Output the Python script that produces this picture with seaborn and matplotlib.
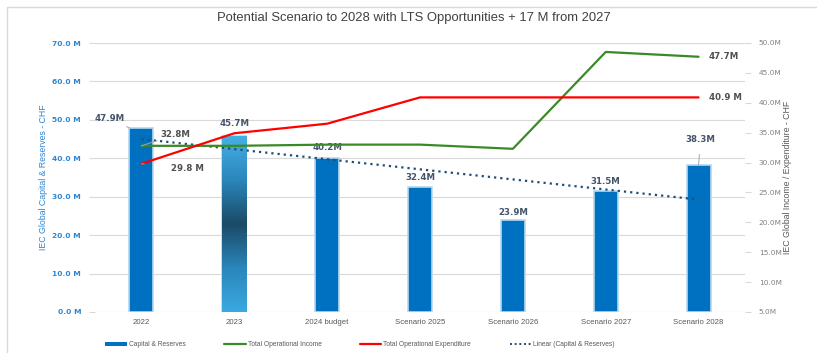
import numpy as np
import pandas as pd
import matplotlib
matplotlib.use("Agg")
import matplotlib.pyplot as plt
from matplotlib.colors import LinearSegmentedColormap
from matplotlib.lines import Line2D
from matplotlib.patches import Patch, Rectangle
import seaborn as sns

# ---- data ----
categories = ["2022", "2023", "2024 budget", "Scenario 2025",
              "Scenario 2026", "Scenario 2027", "Scenario 2028"]
capital_reserves = [47.9, 45.7, 40.2, 32.4, 23.9, 31.5, 38.3]
operational_income = [32.8, 32.8, 33.0, 33.0, 32.3, 48.5, 47.7]
operational_expenditure = [29.8, 34.9, 36.5, 40.9, 40.9, 40.9, 40.9]

left_ticks = [0, 10, 20, 30, 40, 50, 60, 70]
right_ticks = [5, 10, 15, 20, 25, 30, 35, 40, 45, 50]

title = "Potential Scenario to 2028 with LTS Opportunities + 17 M from 2027"

# ---- style ----
sns.set_theme(style="white")
NARROW = ["Liberation Sans", "DejaVu Sans"]
plt.rcParams["font.family"] = ["DejaVu Sans"]

BAR_BLUE = "#0070c0"
GREEN = "#3a8a27"
RED = "#ff0000"
TREND = "#1f4e79"
GRID = "#d9d9d9"
LEFT_TXT = "#2e86d0"
RIGHT_TXT = "#808080"
LABEL_TXT = "#44546a"
LINE_TXT = "#505050"

df = pd.DataFrame({"category": categories, "capital": capital_reserves})
pos = np.arange(len(categories))

fig = plt.figure(figsize=(8.17, 3.53), dpi=100)
ax = fig.add_axes([95 / 817, 1 - 312 / 353, 650 / 817, 269 / 353])

sns.barplot(data=df, x="category", y="capital", ax=ax, color=BAR_BLUE,
            saturation=1, width=0.26, edgecolor="#b7d8f0", linewidth=1.2,
            zorder=2)

# gradient fill on the 2023 bar
p = ax.patches[1]
x0, y0, w, h = p.get_x(), p.get_y(), p.get_width(), p.get_height()
cmap = LinearSegmentedColormap.from_list(
    "bar23", ["#3ba9e1", "#2a86bb", "#1b4a66", "#2a86bb", "#45b0e6"])
grad = np.linspace(0, 1, 256).reshape(-1, 1)
im = ax.imshow(grad, extent=[x0, x0 + w, y0, y0 + h], origin="lower",
               cmap=cmap, aspect="auto", zorder=2.1)
im.set_clip_path(p)

# linear trend of capital & reserves
sns.regplot(x=pos, y=np.array(capital_reserves), ax=ax, scatter=False,
            ci=None, truncate=True,
            line_kws=dict(color=TREND, lw=1.6, ls=(0, (1, 1.8)), zorder=3))

ax.set_xlim(-0.5, len(categories) - 0.5)
ax.set_ylim(0, 70)
ax.set_yticks(left_ticks)
ax.set_yticklabels([f"{v:.1f} M" for v in left_ticks], color=LEFT_TXT,
                   fontsize=5.4, fontweight="bold")
ax.set_xticks(pos)
ax.set_xticklabels(categories, fontsize=5.6, color="#595959", family=NARROW)
ax.tick_params(axis="x", length=0, pad=5)
ax.tick_params(axis="y", length=4, color=GRID, width=0.8, pad=6)
ax.grid(axis="y", color=GRID, lw=0.8, zorder=0)
ax.set_axisbelow(True)
for s in ax.spines.values():
    s.set_visible(False)
ax.set_xlabel("")
ax.set_ylabel("IEC Global Capital & Reserves - CHF", color=LEFT_TXT,
              fontsize=6.3, family=NARROW, labelpad=3)

# income / expenditure on the secondary axis
ax2 = ax.twinx()
sns.lineplot(x=pos, y=operational_income, ax=ax2, color=GREEN, lw=1.6)
sns.lineplot(x=pos, y=operational_expenditure, ax=ax2, color=RED, lw=1.6)
ax2.set_ylim(5, 50)
ax2.set_yticks(right_ticks)
ax2.set_yticklabels([f"{v:.1f}M" for v in right_ticks], color=RIGHT_TXT,
                    fontsize=5.3)
ax2.tick_params(axis="y", length=4, color=GRID, width=0.8, pad=6)
for s in ax2.spines.values():
    s.set_visible(False)
ax2.set_ylabel("IEC Global Income / Expenditure - CHF", color="#595959",
               fontsize=6.3, family=NARROW, labelpad=1)
ax2.set_xlim(-0.5, len(categories) - 0.5)

# bar value labels
lab_kw = dict(textcoords="offset pixels", fontsize=6.2, fontweight="bold",
              color=LABEL_TXT, ha="center", va="center", zorder=5)
bar_offsets = {1: 13, 2: 10, 3: 10, 4: 8, 5: 9}
for i, off in bar_offsets.items():
    ax.annotate(f"{capital_reserves[i]:.1f}M", (pos[i], capital_reserves[i]),
                xytext=(0, off), **lab_kw)
ax.annotate(f"{capital_reserves[0]:.1f}M", (pos[0] - 0.13, capital_reserves[0]),
            xytext=(-20, 9),
            arrowprops=dict(arrowstyle="-", color="#a6a6a6", lw=0.7,
                            shrinkA=8, shrinkB=0), **lab_kw)
ax.annotate(f"{capital_reserves[6]:.1f}M", (pos[6], capital_reserves[6]),
            xytext=(2, 25),
            arrowprops=dict(arrowstyle="-", color="#a6a6a6", lw=0.7,
                            shrinkA=5, shrinkB=0), **lab_kw)

# line value labels
line_kw = dict(textcoords="offset pixels", fontsize=6.2, fontweight="bold",
               color=LINE_TXT, va="center", zorder=5)
ax2.annotate(f"{operational_income[0]:.1f}M", (pos[0], operational_income[0]),
             xytext=(34, 11), ha="center",
             arrowprops=dict(arrowstyle="-", color="#a6a6a6", lw=0.7,
                             shrinkA=14, shrinkB=0), **line_kw)
ax2.annotate(f"{operational_expenditure[0]:.1f} M",
             (pos[0], operational_expenditure[0]),
             xytext=(46, -5), ha="center",
             arrowprops=dict(arrowstyle="-", color="#a6a6a6", lw=0.7,
                             shrinkA=17, shrinkB=0), **line_kw)
ax2.annotate(f"{operational_income[-1]:.1f}M", (pos[-1], operational_income[-1]),
             xytext=(10, 0), ha="left", **line_kw)
ax2.annotate(f"{operational_expenditure[-1]:.1f} M",
             (pos[-1], operational_expenditure[-1]),
             xytext=(10, 0), ha="left", **line_kw)

# title
fig.text(0.507, 1 - 18 / 353, title, ha="center", va="center",
         fontsize=9.4, color="#404040", family=NARROW)

# legend
handles = [
    Patch(facecolor=BAR_BLUE, edgecolor="none"),
    Line2D([], [], color=GREEN, lw=1.6),
    Line2D([], [], color=RED, lw=1.6),
    Line2D([], [], color=TREND, lw=1.4, ls=(0, (1, 1.4))),
]
labels = ["Capital & Reserves", "Total Operational Income",
          "Total Operational Expenditure", "Linear (Capital & Reserves)"]
fig.legend(handles, labels, loc="center", bbox_to_anchor=(360 / 817, 1 - 345 / 353),
           ncol=4, frameon=False, prop=dict(family=NARROW, size=4.8),
           labelcolor="#595959", handlelength=3.2, handleheight=0.45,
           handletextpad=0.3, columnspacing=5.8)

# chart-area frame
fig.patches.append(Rectangle((7 / 817, -0.2), 1.2, 1.2 - 7 / 353,
                             transform=fig.transFigure, fill=False,
                             ec="#d9d9d9", lw=1.0))

fig.savefig("out.png", dpi=100)
